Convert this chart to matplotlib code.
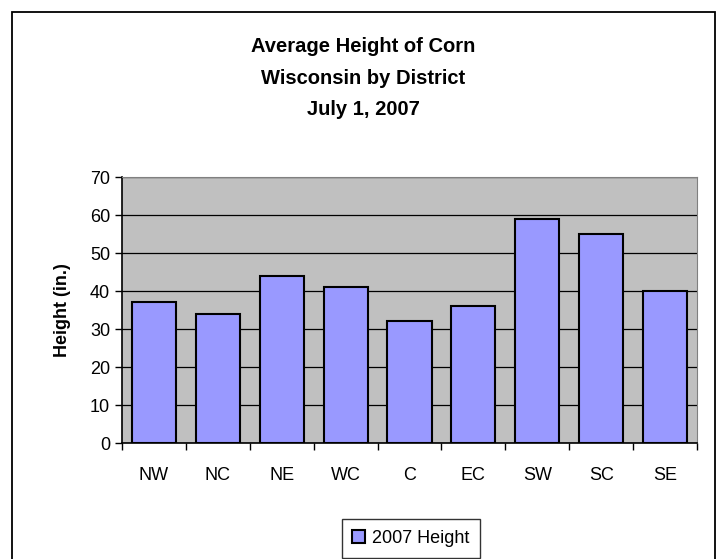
import numpy as np
import matplotlib
matplotlib.use('Agg')
import matplotlib.pyplot as plt
from matplotlib.patches import Rectangle

plt.rcParams['font.family'] = ['Liberation Sans', 'DejaVu Sans']

districts = ['NW', 'NC', 'NE', 'WC', 'C', 'EC', 'SW', 'SC', 'SE']
height_2007 = [37, 34, 44, 41, 32, 36, 59, 55, 40]
series_name = '2007 Height'

fig = plt.figure(figsize=(7.23, 5.59), dpi=100)

# outer chart frame (bottom edge runs off the image, like the reference)
fig.patches.append(Rectangle((12 / 723, -10 / 559), 703 / 723, 557 / 559,
                             transform=fig.transFigure, fill=False,
                             edgecolor='black', linewidth=1.3))

ax = fig.add_axes([122 / 723, 116 / 559, 575 / 723, 266 / 559])
ax.set_facecolor('#c0c0c0')

x = np.arange(len(districts))
ax.bar(x, height_2007, width=0.69, color='#9999ff', edgecolor='black',
       linewidth=1.5, label=series_name, zorder=3)

ax.set_xlim(-0.5, len(districts) - 0.5)
ax.set_ylim(0, 70)
ax.set_yticks(range(0, 71, 10))
ax.yaxis.grid(True, color='black', linewidth=0.9, zorder=1)
ax.set_axisbelow(True)

ax.set_xticks(x)
ax.set_xticklabels(districts, fontsize=13)
ax.tick_params(axis='x', length=0, pad=17)
ax.set_xticks(np.arange(-0.5, len(districts)), minor=True)
ax.tick_params(axis='x', which='minor', length=5, width=1, direction='out')
ax.tick_params(axis='y', labelsize=13, length=5, width=1, direction='out')

for side in ['top', 'right']:
    ax.spines[side].set_color('#808080')
for side in ['left', 'bottom']:
    ax.spines[side].set_color('black')
    ax.spines[side].set_linewidth(1.2)

ax.set_ylabel('Height (in.)', fontsize=13, fontweight='bold', labelpad=14)

fig.text(363 / 723, 1 - 78 / 559,
         'Average Height of Corn\nWisconsin by District\nJuly 1, 2007',
         ha='center', va='center', fontsize=14.5, fontweight='bold',
         linespacing=1.82)

leg = fig.legend(*ax.get_legend_handles_labels(), loc='upper center',
                 bbox_to_anchor=(411 / 723, 1 - 519 / 559), fontsize=13,
                 frameon=True, fancybox=False, edgecolor='black',
                 handlelength=0.7, handleheight=0.7, handletextpad=0.4,
                 borderpad=0.6, borderaxespad=0)
leg.get_frame().set_linewidth(1)

fig.savefig('out.png', dpi=100, facecolor='white')
